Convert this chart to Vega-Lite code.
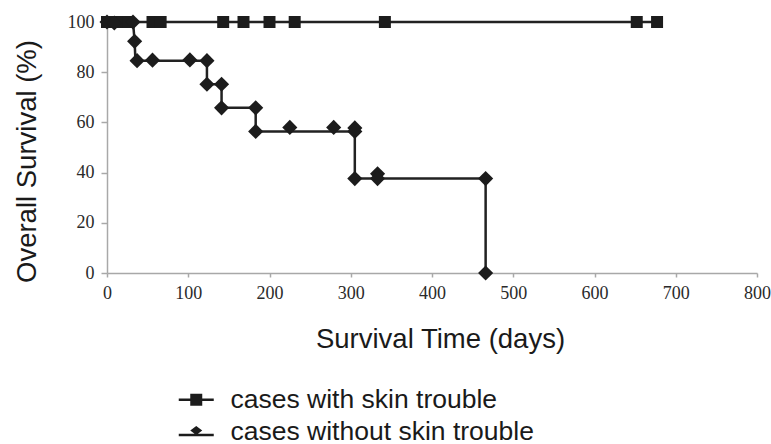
{
  "$schema": "https://vega.github.io/schema/vega-lite/v6.json",
  "width": 650,
  "height": 251,
  "autosize": {"type": "none"},
  "padding": {"left": 107, "top": 22, "right": 14, "bottom": 171},
  "background": "white",
  "config": {
    "view": {"stroke": null},
    "axis": {
      "grid": false,
      "domainColor": "#a8a8a8",
      "domainWidth": 1.5,
      "tickColor": "#a8a8a8",
      "tickWidth": 1.5,
      "labelFont": "Liberation Serif",
      "labelFontSize": 18,
      "labelColor": "#2a2a2a",
      "titleFont": "Liberation Sans",
      "titleFontSize": 27.5,
      "titleFontWeight": "normal",
      "titleColor": "#1a1a1a"
    },
    "legend": {
      "labelFont": "Liberation Sans",
      "labelFontSize": 26.5,
      "labelColor": "#1a1a1a",
      "labelLimit": 0
    }
  },
  "datasets": {
    "curve": [
      {"series": "cases with skin trouble", "seq": 1, "day": 0, "surv": 100},
      {"series": "cases with skin trouble", "seq": 2, "day": 677, "surv": 100},
      {"series": "cases without skin trouble", "seq": 1, "day": 0, "surv": 100},
      {"series": "cases without skin trouble", "seq": 2, "day": 32, "surv": 100},
      {"series": "cases without skin trouble", "seq": 3, "day": 34, "surv": 92.3},
      {"series": "cases without skin trouble", "seq": 4, "day": 35, "surv": 84.6},
      {"series": "cases without skin trouble", "seq": 5, "day": 123, "surv": 84.6},
      {"series": "cases without skin trouble", "seq": 6, "day": 123, "surv": 75.2},
      {"series": "cases without skin trouble", "seq": 7, "day": 141, "surv": 75.2},
      {"series": "cases without skin trouble", "seq": 8, "day": 141, "surv": 65.8},
      {"series": "cases without skin trouble", "seq": 9, "day": 183, "surv": 65.8},
      {"series": "cases without skin trouble", "seq": 10, "day": 183, "surv": 56.4},
      {"series": "cases without skin trouble", "seq": 11, "day": 305, "surv": 56.4},
      {"series": "cases without skin trouble", "seq": 12, "day": 305, "surv": 37.6},
      {"series": "cases without skin trouble", "seq": 13, "day": 466, "surv": 37.6},
      {"series": "cases without skin trouble", "seq": 14, "day": 466, "surv": 0}
    ],
    "marks": [
      {"series": "cases with skin trouble", "day": 0, "surv": 100},
      {"series": "cases with skin trouble", "day": 12, "surv": 100},
      {"series": "cases with skin trouble", "day": 19, "surv": 100},
      {"series": "cases with skin trouble", "day": 26, "surv": 100},
      {"series": "cases with skin trouble", "day": 56, "surv": 100},
      {"series": "cases with skin trouble", "day": 66, "surv": 100},
      {"series": "cases with skin trouble", "day": 143, "surv": 100},
      {"series": "cases with skin trouble", "day": 168, "surv": 100},
      {"series": "cases with skin trouble", "day": 200, "surv": 100},
      {"series": "cases with skin trouble", "day": 231, "surv": 100},
      {"series": "cases with skin trouble", "day": 342, "surv": 100},
      {"series": "cases with skin trouble", "day": 652, "surv": 100},
      {"series": "cases with skin trouble", "day": 677, "surv": 100},
      {"series": "cases without skin trouble", "day": 0, "surv": 100},
      {"series": "cases without skin trouble", "day": 9, "surv": 99.6},
      {"series": "cases without skin trouble", "day": 32, "surv": 100},
      {"series": "cases without skin trouble", "day": 34, "surv": 92.3},
      {"series": "cases without skin trouble", "day": 37, "surv": 84.6},
      {"series": "cases without skin trouble", "day": 56, "surv": 84.8},
      {"series": "cases without skin trouble", "day": 102, "surv": 84.9},
      {"series": "cases without skin trouble", "day": 123, "surv": 84.6},
      {"series": "cases without skin trouble", "day": 123, "surv": 75.2},
      {"series": "cases without skin trouble", "day": 141, "surv": 75.2},
      {"series": "cases without skin trouble", "day": 141, "surv": 65.8},
      {"series": "cases without skin trouble", "day": 183, "surv": 65.8},
      {"series": "cases without skin trouble", "day": 183, "surv": 56.4},
      {"series": "cases without skin trouble", "day": 225, "surv": 58.0},
      {"series": "cases without skin trouble", "day": 279, "surv": 58.0},
      {"series": "cases without skin trouble", "day": 305, "surv": 57.8},
      {"series": "cases without skin trouble", "day": 305, "surv": 56.4},
      {"series": "cases without skin trouble", "day": 305, "surv": 37.6},
      {"series": "cases without skin trouble", "day": 333, "surv": 39.5},
      {"series": "cases without skin trouble", "day": 333, "surv": 37.6},
      {"series": "cases without skin trouble", "day": 466, "surv": 37.6},
      {"series": "cases without skin trouble", "day": 466, "surv": 0}
    ]
  },
  "encoding": {
    "x": {
      "field": "day",
      "type": "quantitative",
      "scale": {"domain": [0, 800], "nice": false, "zero": true},
      "axis": {
        "title": "Survival Time (days)",
        "values": [0, 100, 200, 300, 400, 500, 600, 700, 800],
        "labelFont": "Liberation Serif",
        "tickSize": 4,
        "labelPadding": 7,
        "labelFlush": false,
        "titleBaseline": "alphabetic",
        "titleY": 74,
        "titleX": 333,
        "titleAlign": "center",
        "titleAnchor": "start"
      }
    },
    "y": {
      "field": "surv",
      "type": "quantitative",
      "scale": {"domain": [0, 100], "nice": false},
      "axis": {
        "title": "Overall Survival (%)",
        "values": [0, 20, 40, 60, 80, 100],
        "labelFont": "Liberation Serif",
        "tickSize": 6,
        "labelPadding": 7,
        "labelFlush": false,
        "titleAngle": -90,
        "titleBaseline": "alphabetic",
        "titleX": -72,
        "titleY": 139,
        "titleAlign": "center",
        "titleAnchor": "start"
      }
    }
  },
  "layer": [
    {
      "data": {"name": "curve"},
      "mark": {"type": "line", "color": "#222222", "strokeWidth": 2.5, "interpolate": "linear"},
      "encoding": {
        "detail": {"field": "series"},
        "order": {"field": "seq", "type": "quantitative"}
      }
    },
    {
      "data": {"name": "marks"},
      "transform": [{"filter": "datum.series === 'cases with skin trouble'"}],
      "mark": {"type": "point", "shape": "square", "filled": true, "color": "#1c1c1c", "opacity": 1, "size": 144}
    },
    {
      "data": {"name": "marks"},
      "transform": [{"filter": "datum.series === 'cases without skin trouble'"}],
      "mark": {"type": "point", "shape": "diamond", "filled": true, "color": "#1c1c1c", "opacity": 1, "size": 230}
    },
    {
      "data": {"name": "curve"},
      "mark": {"type": "point", "filled": true, "color": "#1c1c1c", "opacity": 1, "size": 0},
      "encoding": {
        "shape": {
          "field": "series",
          "type": "nominal",
          "scale": {
            "domain": ["cases with skin trouble", "cases without skin trouble"],
            "range": [
              "M-1.75,-0.12H1.75V0.12H-1.75Z M-0.6,-0.6H0.6V0.6H-0.6Z",
              "M-1.75,0.21H1.75V0.45H-1.75Z M0,-0.57L0.6,-0.12L0,0.33L-0.6,-0.12Z"
            ]
          },
          "legend": {
            "title": null,
            "orient": "none",
            "legendX": 76,
            "legendY": 364.5,
            "symbolSize": 400,
            "symbolFillColor": "#1c1c1c",
            "symbolStrokeWidth": 0,
            "symbolOpacity": 1,
            "labelOffset": 21,
            "rowPadding": 5,
            "padding": 0
          }
        }
      }
    }
  ]
}
